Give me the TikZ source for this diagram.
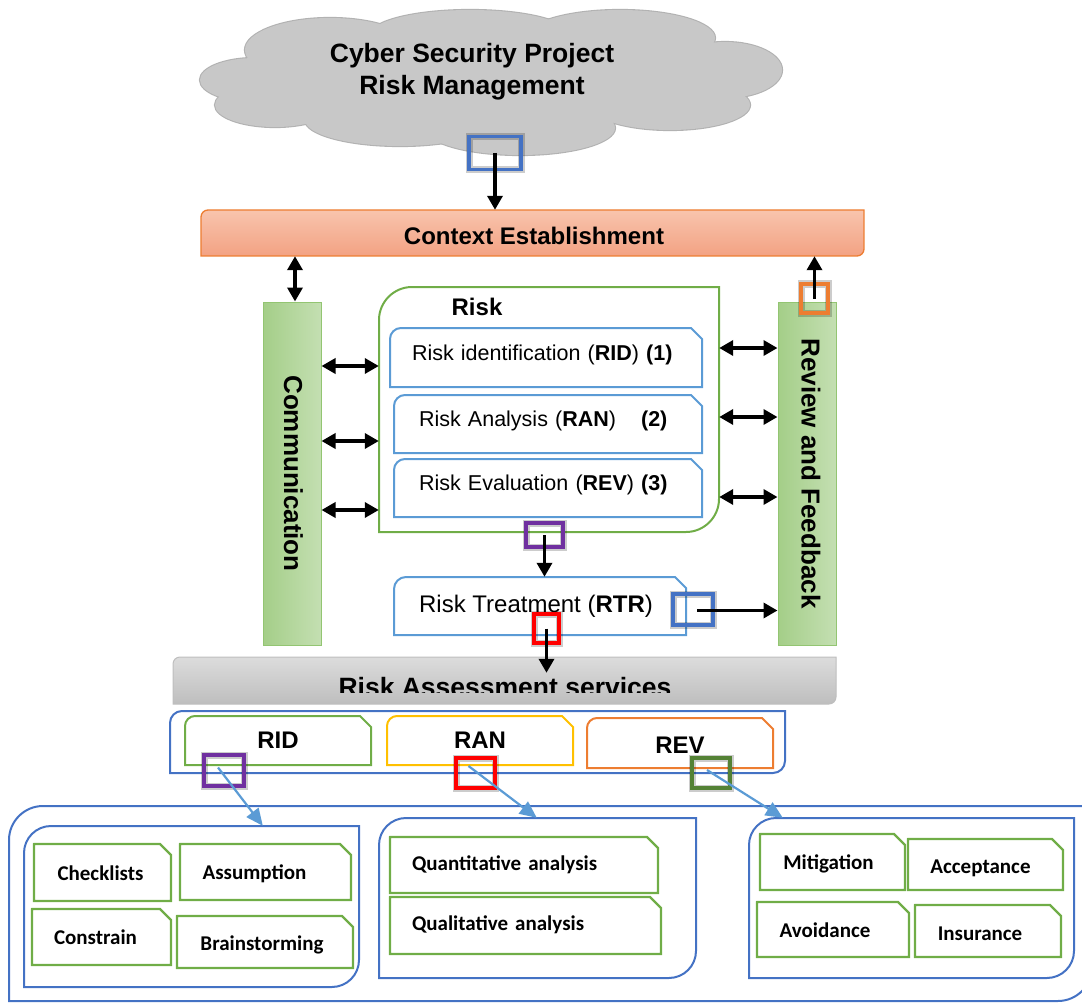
\documentclass[tikz,border=0pt]{standalone}
\usepackage{fontspec}
\setmainfont{Liberation Sans}
\newfontfamily\calibfont{Carlito}
\usetikzlibrary{arrows.meta,calc}

\definecolor{cldfill}{HTML}{C8C8C8}
\definecolor{cldline}{HTML}{B2B2B2}
\definecolor{ctxtop}{HTML}{F8C4AD}
\definecolor{ctxbot}{HTML}{F3A283}
\definecolor{ctxline}{HTML}{ED7D31}
\definecolor{barl}{HTML}{A4CE88}
\definecolor{barr}{HTML}{C4DFB2}
\definecolor{barline}{HTML}{93C572}
\definecolor{grn}{HTML}{70AD47}
\definecolor{lblue}{HTML}{5B9BD5}
\definecolor{dblue}{HTML}{4472C4}
\definecolor{gold}{HTML}{FFC000}
\definecolor{orng}{HTML}{ED7D31}
\definecolor{purp}{HTML}{7030A0}
\definecolor{dgreen}{HTML}{548235}
\definecolor{graytop}{HTML}{DCDCDC}
\definecolor{graybot}{HTML}{BEBEBE}

% box with rounded top-left and bottom-right corners
% #1 path style, #2 name, #3 x1, #4 y1, #5 x2, #6 y2, #7 corner radius
\newcommand\diagbox[7]{%
  \path[#1] (#3,{#4+#7}) .. controls (#3,{#4+0.45*#7}) and ({#3+0.45*#7},#4) .. ({#3+#7},#4)
    -- (#5,#4) -- (#5,{#6-#7}) .. controls (#5,{#6-0.45*#7}) and ({#5-0.45*#7},#6) .. ({#5-#7},#6)
    -- (#3,#6) -- cycle;
  \node[inner sep=0pt, minimum width={#5-#3}, minimum height={#6-#4}] (#2) at ({(#3+#5)/2},{(#4+#6)/2}) {};
}

% box with a rounded top-left corner and a snipped top-right corner
% #1 outline style, #2 name, #3 x1, #4 y1, #5 x2, #6 y2, #7 radius, #8 text options, #9 text
\newcommand\snipbox[9]{%
  \draw[#1] (#3,#6) -- (#3,{#4+#7}) .. controls (#3,{#4+0.45*#7}) and ({#3+0.45*#7},#4) .. ({#3+#7},#4)
    -- ({#5-11},#4) -- (#5,{#4+11}) -- (#5,#6) -- cycle;
  \node[inner sep=0pt, minimum width={#5-#3}, minimum height={#6-#4}, #8] (#2) at ({(#3+#5)/2},{(#4+#6)/2}) {#9};
}

\begin{document}
\begin{tikzpicture}[x=1pt,y=-1pt,
  blk/.style={line width=3.4pt, -{Triangle[length=14pt,width=15pt]}},
  blkboth/.style={line width=3.4pt, {Triangle[length=14pt,width=15pt]}-{Triangle[length=14pt,width=15pt]}},
  bluearr/.style={draw=lblue, line width=2.2pt, -{Triangle[length=17pt,width=15pt]}},
  hl/.style={draw=#1, line width=3.4pt, inner sep=0pt,
    preaction={draw=black, draw opacity=.2, line width=7pt}},
  riskbox/.style={draw=lblue, line width=2pt},
  itembox/.style={draw=grn, line width=2.3pt},
  fsmall/.style={font=\fontsize{21.5}{25}\selectfont},
  fitem/.style={font=\calibfont\bfseries\fontsize{21}{25}\selectfont},
  fhead/.style={font=\bfseries\fontsize{24}{28}\selectfont},
  fbar/.style={font=\bfseries\fontsize{26}{30}\selectfont}]

\useasboundingbox (0,0) rectangle (1082,1003);
\clip (0,0) rectangle (1082,1003);

% title cloud built from overlapping puffs: outlines first, then fills on top
\def\puffs{330/50/85/32, 470/35/100/25, 620/38/95/28, 725/70/57/28, 255/80/55/22,
  275/105/60/22, 400/120/95/26, 520/128/95/27, 670/105/80/25, 490/80/240/45}
\foreach \cx/\cy/\rx/\ry in \puffs
  \draw[cldline, line width=2.2pt] (\cx,\cy) ellipse [x radius=\rx, y radius=\ry];
\foreach \cx/\cy/\rx/\ry in \puffs
  \fill[cldfill] (\cx,\cy) ellipse [x radius=\rx, y radius=\ry];
\node[inner sep=0pt, minimum width=582pt, minimum height=140pt] (cloud) at (491,82) {};
\node[align=center, font=\bfseries\fontsize{26.5}{32}\selectfont] (title) at (472,72)
  {Cyber Security Project\\Risk Management};

% context bar
\diagbox{draw=ctxline, line width=1.3pt, top color=ctxtop, bottom color=ctxbot}{ctx}{201}{210}{864}{256}{7}
\node[fhead, anchor=base] (ctxtxt) at (534,245) {Context Establishment};

% side bars
\node[draw=barline, line width=1pt, left color=barl, right color=barr, minimum width=58pt,
  minimum height=343pt, inner sep=0pt] (comm) at (292,473.5) {};
\node[fbar, rotate=-90] (commtxt) at (293.5,473.5) {Communication};
\node[draw=barline, line width=1pt, left color=barl, right color=barr, minimum width=58pt,
  minimum height=343pt, inner sep=0pt] (review) at (807,473.5) {};
\node[fbar, rotate=-90] (reviewtxt) at (811,473.5) {Review and Feedback};

% risk frame and its three steps
\diagbox{draw=grn, line width=2pt}{riskfr}{379}{287}{719}{532}{33}
\node[fhead, anchor=base] (risklbl) at (477,316) {Risk};
\snipbox{riskbox}{rid}{390}{328}{702}{387}{11}{fsmall, text width=268pt, align=left, yshift=3pt}
  {Risk identification (\textbf{RID}) \textbf{(1)}}
\snipbox{riskbox}{ran}{394}{395}{702}{453}{11}{fsmall, text width=258pt, align=left, yshift=3pt}
  {Risk Analysis (\textbf{RAN})\hspace{25pt}\textbf{(2)}}
\snipbox{riskbox}{reval}{394}{459}{702}{517}{11}{fsmall, text width=258pt, align=left, yshift=3pt}
  {Risk Evaluation (\textbf{REV}) \textbf{(3)}}
\snipbox{riskbox}{rtr}{394}{577}{686}{635}{12}{font=\fontsize{24}{28}\selectfont, xshift=-4pt}
  {Risk Treatment (\textbf{RTR})}

% assessment services bar (label cut by the bar's text area)
\diagbox{draw=graybot, line width=1pt, top color=graytop, bottom color=graybot}{ras}{173}{657}{836}{704}{7}
\begin{scope}
  \clip (173,657) rectangle (836,692);
  \node[font=\bfseries\fontsize{26.5}{30}\selectfont, anchor=base] (rastxt) at (505,696) {Risk Assessment services};
\end{scope}

% services row
\diagbox{draw=dblue, line width=2pt}{svc}{170}{711}{785}{773}{12}
\snipbox{draw=grn, line width=2pt}{sid}{185}{716}{371}{765}{10}{fhead}{RID}
\snipbox{draw=gold, line width=2pt}{san}{387}{716}{573}{765}{10}{fhead}{RAN}
\snipbox{draw=orng, line width=2pt}{sev}{587}{718}{773}{768}{10}{fhead, yshift=-2pt}{REV}

% technique groups
\diagbox{draw=dblue, line width=2pt}{outer}{9}{806}{1092}{1001}{34}
\diagbox{draw=dblue, line width=2pt}{g1}{24}{826}{359}{987}{27}
\diagbox{draw=dblue, line width=2pt}{g2}{379}{818}{696}{978}{27}
\diagbox{draw=dblue, line width=2pt}{g3}{749}{818}{1074}{978}{27}

\snipbox{itembox}{chk}{34}{844}{171}{901}{0.01}{fitem, xshift=-2pt, yshift=-1pt}{Checklists}
\snipbox{itembox}{asm}{180}{844}{351}{900}{0.01}{fitem, xshift=-11pt, yshift=-2pt}{Assumption}
\snipbox{itembox}{con}{32}{909}{171}{965}{0.01}{fitem, xshift=-6pt}{Constrain}
\snipbox{itembox}{brn}{177}{916}{353}{968}{0.01}{fitem, xshift=-3pt, yshift=-3pt}{Brainstorming}

\snipbox{itembox}{qnt}{390}{837}{658}{893}{0.01}{fitem, text width=224pt, align=left}{Quantitative analysis}
\snipbox{itembox}{qlt}{390}{897}{661}{954}{0.01}{fitem, text width=227pt, align=left, yshift=1pt}{Qualitative analysis}

\snipbox{itembox}{mit}{760}{834}{905}{890}{0.01}{fitem, xshift=-4pt, yshift=-2pt}{Mitigation}
\snipbox{itembox}{acc}{908}{839}{1063}{890}{0.01}{fitem, xshift=-5pt, yshift=-4pt}{Acceptance}
\snipbox{itembox}{avo}{757}{902}{909}{957}{0.01}{fitem, xshift=-8pt, yshift=-1pt}{Avoidance}
\snipbox{itembox}{ins}{915}{905}{1061}{957}{0.01}{fitem, xshift=-8pt, yshift=-3pt}{Insurance}

% highlight markers
\node[hl=dblue, minimum width=52pt, minimum height=33pt] (hlA) at (495,153) {};
\node[hl=orng, minimum width=27pt, minimum height=29pt] (hlB) at (814.5,298.5) {};
\node[hl=purp, minimum width=37pt, minimum height=24pt] (hlC) at (544.5,535) {};
\node[hl=dblue, minimum width=40pt, minimum height=31pt] (hlD) at (693,609.5) {};
\node[hl=red, minimum width=25pt, minimum height=29pt] (hlE) at (546.5,628.5) {};
\node[hl=purp, minimum width=40pt, minimum height=31pt] (hlF) at (224,770.5) {};
\node[hl=red, minimum width=39pt, minimum height=30pt] (hlG) at (475.5,773) {};
\node[hl=dgreen, minimum width=38pt, minimum height=30pt] (hlH) at (711,773) {};

% connectors
\draw[blk] (hlA.center) -- (hlA.center |- ctx.north);
\draw[blkboth] ($(comm.north |- ctx.south)+(3,0)$) -- ($(comm.north)+(3,0)$);
\draw[blk] (hlB.center) -- (hlB.center |- ctx.south);
\foreach \yy [count=\i] in {366,441,510}{
  \coordinate (lv\i) at (0,\yy);
  \draw[blkboth] (comm.east |- lv\i) -- (riskfr.west |- lv\i);
}
\foreach \yy [count=\i] in {348,417,497}{
  \coordinate (rv\i) at (0,\yy);
  \draw[blkboth] (riskfr.east |- rv\i) -- (review.west |- rv\i);
}
\draw[blk] (hlC.center) -- (hlC.center |- rtr.north);
\coordinate (rtrout) at ($(hlD.center)+(4,1)$);
\draw[blk] (rtrout) -- (review.west |- rtrout);
\draw[blk] (hlE.center) -- ($(hlE.center |- ras.north)+(0,16)$);
\draw[bluearr] ($(hlF.center)+(-6,-3)$) -- ($(g1.north west)+(239,0)$);
\draw[bluearr] ($(hlG.center)+(-7,-7)$) -- ($(g2.north west)+(158,0)$);
\draw[bluearr] ($(hlH.center)+(-4,-3)$) -- ($(g3.north west)+(34,0)$);

\end{tikzpicture}
\end{document}
